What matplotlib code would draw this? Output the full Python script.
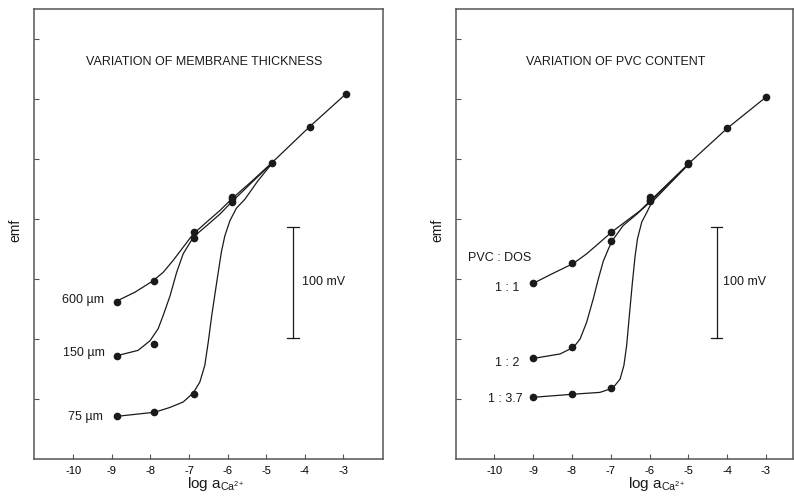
import matplotlib
matplotlib.use("Agg")
import matplotlib.pyplot as plt

plt.rcParams["font.family"] = ["Liberation Sans", "DejaVu Sans"]
plt.rcParams["mathtext.fontset"] = "custom"
plt.rcParams["mathtext.rm"] = "Liberation Sans"
plt.rcParams["mathtext.it"] = "Liberation Sans"

INK = "#1a1a1a"
FRAME = "#555555"

# ---- panel A: membrane thickness (emf in tick units, 100 mV ~ 1.85 units)
thick_labels = ["600 µm", "150 µm", "75 µm"]
thick_pts_x = [-8.87, -7.90, -6.87, -5.88, -4.84, -3.87, -2.93]
thick_pts_y = {
    "600 µm": [2.62, 2.97, 3.78, 4.36, 4.94, 5.54, 6.08],
    "150 µm": [1.71, 1.91, 3.69, 4.33],
    "75 µm": [0.72, 0.78, 1.08, 4.28],
}
thick_curve_x = {
    "600 µm": [-8.88, -8.40, -7.93, -7.67, -7.41, -7.15, -6.89, -6.54, -6.20, -5.90,
               -5.37, -4.83, -3.87, -2.94],
    "150 µm": [-8.88, -8.32, -8.01, -7.80, -7.67, -7.49, -7.32, -7.15, -6.97, -6.85,
               -6.54, -6.20, -5.90, -5.37, -4.83],
    "75 µm": [-8.88, -7.88, -7.49, -7.15, -6.89, -6.72, -6.59, -6.50, -6.41, -6.28,
              -6.16, -6.07, -5.94, -5.77, -5.55, -5.22, -4.83],
}
thick_curve_y = {
    "600 µm": [2.63, 2.78, 2.97, 3.11, 3.31, 3.53, 3.75, 3.95, 4.14, 4.33,
               4.63, 4.95, 5.54, 6.08],
    "150 µm": [1.72, 1.81, 1.97, 2.17, 2.39, 2.72, 3.11, 3.42, 3.61, 3.72,
               3.89, 4.08, 4.28, 4.61, 4.94],
    "75 µm": [0.71, 0.78, 0.86, 0.95, 1.10, 1.28, 1.56, 1.95, 2.39, 2.95,
              3.45, 3.72, 3.97, 4.18, 4.33, 4.63, 4.94],
}

# ---- panel B: PVC : DOS ratio
pvc_labels = ["1 : 1", "1 : 2", "1 : 3.7"]
pvc_pts_x = [-9, -8, -7, -6, -5, -4, -3]
pvc_pts_y = {
    "1 : 1": [2.94, 3.26, 3.79, 4.36, 4.93, 5.51, 6.03],
    "1 : 2": [1.68, 1.86, 3.64, 4.32, 4.91],
    "1 : 3.7": [1.03, 1.08, 1.18, 4.30],
}
pvc_curve_x = {
    "1 : 1": [-8.96, -8.50, -7.96, -7.62, -7.28, -6.96, -6.59, -6.24, -5.94,
              -4.98, -4.0, -3.0],
    "1 : 2": [-8.96, -8.31, -7.96, -7.79, -7.62, -7.45, -7.32, -7.19, -7.06, -6.96,
              -6.68, -6.33, -5.99, -4.98],
    "1 : 3.7": [-8.96, -7.96, -7.28, -6.95, -6.76, -6.66, -6.59, -6.52, -6.44, -6.37,
                -6.31, -6.20, -6.07, -5.94, -4.98],
}
pvc_curve_y = {
    "1 : 1": [2.94, 3.09, 3.26, 3.42, 3.61, 3.79, 3.97, 4.14, 4.33,
              4.93, 5.51, 6.03],
    "1 : 2": [1.68, 1.75, 1.86, 2.00, 2.28, 2.67, 3.00, 3.30, 3.50, 3.64,
              3.89, 4.08, 4.28, 4.92],
    "1 : 3.7": [1.03, 1.08, 1.11, 1.18, 1.33, 1.56, 1.89, 2.39, 2.95, 3.39,
                3.67, 3.95, 4.11, 4.28, 4.92],
}

xticks = [-10, -9, -8, -7, -6, -5, -4, -3]
xticklabels = ["-10", "-9", "-8", "-7", "-6", "-5", "-4", "-3"]
yticks = [1, 2, 3, 4, 5, 6, 7]
scalebar_y = (2.02, 3.87)

fig = plt.figure(figsize=(7.94, 5.02), dpi=100)
axA = fig.add_axes([0.0422, 0.0837, 0.4402, 0.8964])
axB = fig.add_axes([0.574, 0.0837, 0.4248, 0.8964])


def style(ax, xlim):
    ax.set_xlim(*xlim)
    ax.set_ylim(0, 7.5)
    ax.set_xticks(xticks)
    ax.set_xticklabels(xticklabels, fontsize=8)
    ax.set_yticks(yticks)
    ax.set_yticklabels([])
    ax.tick_params(direction="in", length=3.5, width=0.8, color=FRAME, pad=4)
    for sp in ax.spines.values():
        sp.set_color(FRAME)
        sp.set_linewidth(1.1)


def scalebar(ax, x, label_x):
    ax.plot([x, x], scalebar_y, color=INK, lw=0.9)
    for yy in scalebar_y:
        ax.plot([x - 0.15, x + 0.15], [yy, yy], color=INK, lw=0.9)
    ax.text(label_x, 2.97, "100 mV", fontsize=9, ha="left", va="center", color=INK)


# panel A
style(axA, (-11.03, -1.97))
for name in thick_labels:
    axA.plot(thick_curve_x[name], thick_curve_y[name], color=INK, lw=0.9)
    ys = thick_pts_y[name]
    axA.plot(thick_pts_x[:len(ys)], ys, "o", color=INK, ms=4.5, ls="none")
axA.text(-6.61, 6.63, "VARIATION OF MEMBRANE THICKNESS", fontsize=9, ha="center", va="center", color=INK)
label_pos_A = {"600 µm": (-9.20, 2.67), "150 µm": (-9.18, 1.78), "75 µm": (-9.24, 0.72)}
for name in thick_labels:
    axA.text(*label_pos_A[name], name, fontsize=9, ha="right", va="center", color=INK)
scalebar(axA, -4.30, -4.08)

# panel B
style(axB, (-10.995, -2.30))
for name in pvc_labels:
    axB.plot(pvc_curve_x[name], pvc_curve_y[name], color=INK, lw=0.9)
    ys = pvc_pts_y[name]
    axB.plot(pvc_pts_x[:len(ys)], ys, "o", color=INK, ms=4.5, ls="none")
axB.text(-6.86, 6.63, "VARIATION OF PVC CONTENT", fontsize=9, ha="center", va="center", color=INK)
axB.text(-10.69, 3.36, "PVC : DOS", fontsize=9, ha="left", va="center", color=INK)
label_pos_B = {"1 : 1": (-9.36, 2.86), "1 : 2": (-9.36, 1.62), "1 : 3.7": (-9.27, 1.02)}
for name in pvc_labels:
    axB.text(*label_pos_B[name], name, fontsize=9, ha="right", va="center", color=INK)
scalebar(axB, -4.27, -4.10)

# axis titles
for xc in (15 / 794, 437.3 / 794):
    fig.text(xc, 1 - 230 / 502, "emf", rotation=90, fontsize=10, ha="center", va="center", color=INK)
xlab = r"log a$_{\mathrm{Ca}^{2{+}}}$"
fig.text(216 / 794, 1 - 484 / 502, xlab, fontsize=11, ha="center", va="center", color=INK)
fig.text(657 / 794, 1 - 484 / 502, xlab, fontsize=11, ha="center", va="center", color=INK)

fig.savefig("out.png", dpi=100, facecolor="white")
